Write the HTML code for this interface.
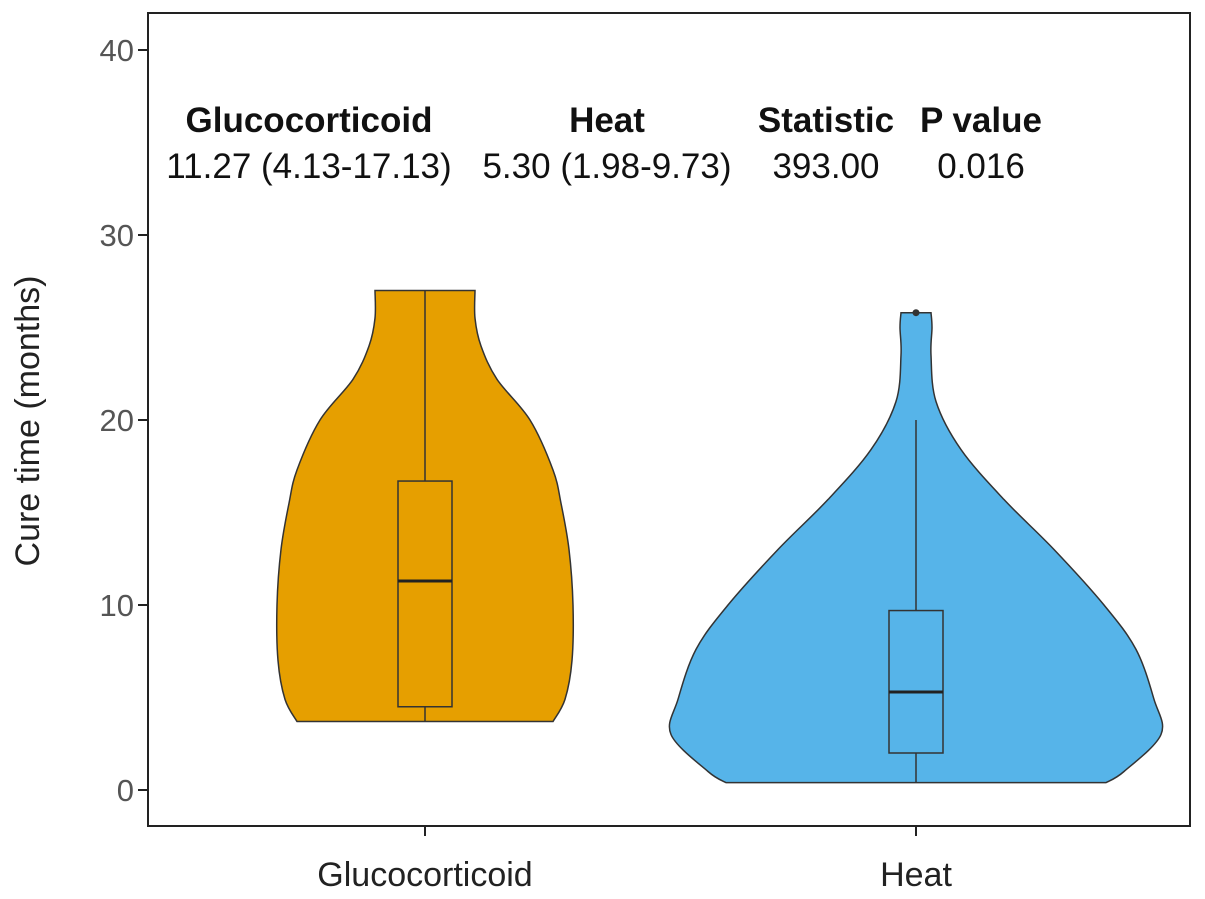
<!DOCTYPE html>
<html><head><meta charset="utf-8"><style>
html,body{margin:0;padding:0;background:#fff}
svg{display:block;font-family:"Liberation Sans",Arial,sans-serif}
</style></head><body>
<svg id="chart" width="1205" height="899" viewBox="0 0 1205 899" xmlns="http://www.w3.org/2000/svg"></svg>
<script>
const categories = ["Glucocorticoid", "Heat"];
const colors = ["#E69F00", "#56B4E9"];
// density profiles: y values (months) and relative density (half-width units)
const glucoDensY = [3.7, 4.9, 7, 10, 13, 15.5, 17.3, 20, 22.2, 24, 25.5, 27];
const glucoDens  = [1.28, 1.40, 1.47, 1.48, 1.44, 1.36, 1.28, 1.05, 0.72, 0.56, 0.50, 0.50];
const heatDensY = [0.4, 1, 3, 4.9, 7.6, 10, 13, 15.7, 18.4, 21, 23.5, 25, 25.8];
const heatDens  = [1.90, 2.08, 2.45, 2.38, 2.20, 1.88, 1.38, 0.88, 0.45, 0.20, 0.15, 0.16, 0.15];
const q1 = [4.5, 2.0];
const medians = [11.3, 5.3];
const q3 = [16.7, 9.7];
const whiskLow = [3.7, 0.4];
const whiskHigh = [27, 20];
const outliers = [[], [25.8]];
const yTicks = [0, 10, 20, 30, 40];
const tableHeaders = ["Glucocorticoid", "Heat", "Statistic", "P value"];
const tableValues = ["11.27 (4.13-17.13)", "5.30 (1.98-9.73)", "393.00", "0.016"];

const svg = document.getElementById('chart');
const NS = "http://www.w3.org/2000/svg";
const plot = {l:148, t:13, r:1190, b:826};
const yScale = v => 790 - v * 18.5;
const xScale = i => [425, 916][i];
const wScale = d => d * 100;
function mk(tag, attrs, parent){const e=document.createElementNS(NS,tag);for(const k in attrs)e.setAttribute(k,attrs[k]);(parent||svg).appendChild(e);return e;}

const frame = mk('rect',{x:plot.l,y:plot.t,width:plot.r-plot.l,height:plot.b-plot.t,fill:'none',stroke:'#222','stroke-width':2});



yTicks.forEach(v=>{
  const y=yScale(v);
  const t=mk('line',{x1:plot.l-10,x2:plot.l,y1:y,y2:y,stroke:'#222','stroke-width':2});
  
  
  const lb=mk('text',{x:plot.l-14,y:y+11,'text-anchor':'end','font-size':31,fill:'#555'});
  lb.textContent=v;
  
  
});
const yt=mk('text',{x:39,y:421,'text-anchor':'middle','font-size':34,fill:'#222',transform:'rotate(-90 39 421)'});
yt.textContent='Cure time (months)';



function smoothPath(pts){
  let d='M'+pts[0][0]+','+pts[0][1];
  for(let i=0;i<pts.length-1;i++){
    const p0=pts[Math.max(i-1,0)],p1=pts[i],p2=pts[i+1],p3=pts[Math.min(i+2,pts.length-1)];
    const c1=[p1[0]+(p2[0]-p0[0])/6,p1[1]+(p2[1]-p0[1])/6];
    const c2=[p2[0]-(p3[0]-p1[0])/6,p2[1]-(p3[1]-p1[1])/6];
    d+=' C'+c1[0]+','+c1[1]+' '+c2[0]+','+c2[1]+' '+p2[0]+','+p2[1];
  }
  return d;
}
const densY=[glucoDensY,heatDensY], dens=[glucoDens,heatDens];
categories.forEach((c,i)=>{
  const cx=xScale(i);
  const right=densY[i].map((v,j)=>[cx+wScale(dens[i][j]),yScale(v)]);
  const left=densY[i].map((v,j)=>[cx-wScale(dens[i][j]),yScale(v)]).reverse();
  let d=smoothPath(right);
  const ld=smoothPath(left);
  d+=' L'+ld.slice(1)+' Z';
  const v=mk('path',{d:d,fill:colors[i],stroke:'#333','stroke-width':1.5});
  
  
  const w=mk('line',{x1:cx,x2:cx,y1:yScale(whiskLow[i]),y2:yScale(whiskHigh[i]),stroke:'#333','stroke-width':1.5});
  
  
  const b=mk('rect',{x:cx-27,y:yScale(q3[i]),width:54,height:yScale(q1[i])-yScale(q3[i]),fill:colors[i],stroke:'#333','stroke-width':1.5});
  
  
  const m=mk('line',{x1:cx-27,x2:cx+27,y1:yScale(medians[i]),y2:yScale(medians[i]),stroke:'#222','stroke-width':3});
  
  
  outliers[i].forEach(o=>{
    const p=mk('circle',{cx:cx,cy:yScale(o),r:3.5,fill:'#333'});
    
    
  });
  const t=mk('line',{x1:cx,x2:cx,y1:plot.b,y2:plot.b+10,stroke:'#222','stroke-width':2});
  
  
  const lb=mk('text',{x:cx,y:886,'text-anchor':'middle','font-size':34,fill:'#222'});
  lb.textContent=c;
  
  
});

const colX=[309,607,826,981];
tableHeaders.forEach((h,i)=>{
  const t=mk('text',{x:colX[i],y:132,'text-anchor':'middle','font-size':35,'font-weight':'bold',fill:'#111'});
  t.textContent=h;
  
  
  const v=mk('text',{x:colX[i],y:178,'text-anchor':'middle','font-size':35,fill:'#111'});
  v.textContent=tableValues[i];
  
  
});
</script>
</body></html>
